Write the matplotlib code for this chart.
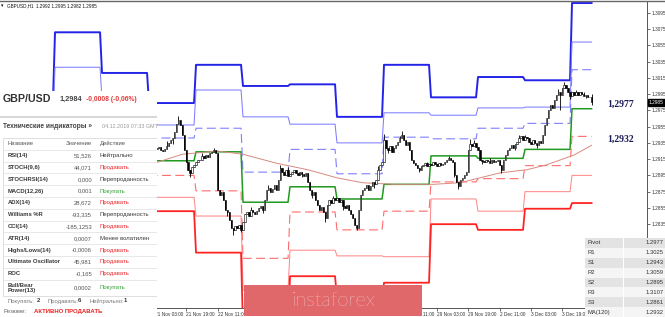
import numpy as np
import matplotlib.pyplot as plt
from matplotlib.patches import Rectangle
import matplotlib.transforms as mtransforms

plt.rcParams['font.family'] = ['Liberation Sans', 'DejaVu Sans']

W, H = 665, 317

# ---------------- данные ----------------
# дневные уровни (18 Nov .. 4 Dec), по одному значению на торговый день
r3_levels = [1.2990, 1.3071, 1.3021, 1.2984, 1.3031, 1.3005, 1.3007, 1.2967, 1.3031, 1.2991, 1.3016, 1.3012, 1.3107]
r2_levels = [1.2960, 1.3028, 1.2988, 1.2957, 1.3000, 1.2967, 1.2958, 1.2935, 1.2972, 1.2969, 1.2978, 1.2979, 1.3059]
r1_levels = [1.2945, 1.2975, 1.2960, 1.2941, 1.2953, 1.2899, 1.2927, 1.2897, 1.2942, 1.2940, 1.2953, 1.2959, 1.3025]
pivot_levels = [1.2915, 1.2945, 1.2935, 1.2913, 1.2924, 1.2862, 1.2881, 1.2866, 1.2884, 1.2919, 1.2916, 1.2927, 1.2977]
s1_levels = [1.2885, 1.2900, 1.2905, 1.2895, 1.2876, 1.2793, 1.2850, 1.2828, 1.2851, 1.2887, 1.2891, 1.2907, 1.2943]
s2_levels = [1.2860, 1.2870, 1.2880, 1.2868, 1.2845, 1.2754, 1.2803, 1.2796, 1.2795, 1.2866, 1.2851, 1.2875, 1.2895]
s3_levels = [1.2830, 1.2840, 1.2855, 1.2851, 1.2800, 1.2705, 1.2771, 1.2744, 1.2763, 1.2835, 1.2828, 1.2854, 1.2861]
bars_per_day = 24
first_level_bar = -24
last_bar = 274

# MA(120)
ma_bars = [30, 52, 65, 83, 96, 113, 129, 144, 157, 173, 193, 207, 217, 227, 241, 251, 265, 274]
ma_values = [1.2900, 1.2911, 1.2921, 1.2925, 1.2921, 1.2910, 1.2902, 1.2892, 1.2886, 1.2884,
             1.2884, 1.2886, 1.2892, 1.2898, 1.2902, 1.2908, 1.2920, 1.2932]

# H1 свечи (close), начиная с бара 52
first_bar = 52
first_open = 1.2928
closes = [
    1.2929, 1.2930, 1.2926, 1.2925, 1.2927, 1.2931, 1.2935, 1.2938, 1.2941, 1.2948, 1.2958, 1.2963,
    1.2957, 1.2945, 1.2926, 1.2911, 1.2902, 1.2898, 1.2905, 1.2908, 1.2911, 1.2914, 1.2914, 1.2919,
    1.2916, 1.2920, 1.2918, 1.2922, 1.2924, 1.2926, 1.2922, 1.2877, 1.2871, 1.2875, 1.2865, 1.2853,
    1.2850, 1.2840, 1.2830, 1.2828, 1.2833, 1.2830, 1.2834, 1.2828, 1.2838, 1.2848, 1.2850, 1.2845,
    1.2853, 1.2850, 1.2848, 1.2851, 1.2855, 1.2857, 1.2853, 1.2865, 1.2877, 1.2879, 1.2875, 1.2878,
    1.2883, 1.2877, 1.2889, 1.2904, 1.2899, 1.2896, 1.2902, 1.2894, 1.2897, 1.2899, 1.2902, 1.2898,
    1.2896, 1.2899, 1.2897, 1.2894, 1.2898, 1.2887, 1.2877, 1.2871, 1.2875, 1.2865, 1.2858, 1.2853,
    1.2856, 1.2850, 1.2843, 1.2858, 1.2865, 1.2861, 1.2867, 1.2865, 1.2867, 1.2862, 1.2865, 1.2857,
    1.2855, 1.2858, 1.2853, 1.2848, 1.2843, 1.2834, 1.2830, 1.2853, 1.2871, 1.2877, 1.2879, 1.2883,
    1.2877, 1.2882, 1.2887, 1.2884, 1.2889, 1.2902, 1.2908, 1.2911, 1.2938, 1.2929, 1.2926, 1.2931,
    1.2924, 1.2929, 1.2932, 1.2936, 1.2941, 1.2945, 1.2938, 1.2932, 1.2936, 1.2926, 1.2914, 1.2910,
    1.2908, 1.2904, 1.2902, 1.2906, 1.2908, 1.2910, 1.2906, 1.2909, 1.2908, 1.2911, 1.2909, 1.2906,
    1.2910, 1.2908, 1.2909, 1.2911, 1.2914, 1.2916, 1.2914, 1.2911, 1.2896, 1.2887, 1.2882, 1.2889,
    1.2892, 1.2896, 1.2899, 1.2926, 1.2934, 1.2931, 1.2935, 1.2930, 1.2926, 1.2914, 1.2913, 1.2911,
    1.2914, 1.2913, 1.2910, 1.2914, 1.2911, 1.2913, 1.2914, 1.2908, 1.2902, 1.2914, 1.2920, 1.2926,
    1.2929, 1.2932, 1.2929, 1.2934, 1.2936, 1.2941, 1.2943, 1.2938, 1.2942, 1.2941, 1.2936, 1.2934,
    1.2938, 1.2935, 1.2932, 1.2937, 1.2935, 1.2945, 1.2957, 1.2966, 1.2975, 1.2982, 1.2978, 1.2988,
    1.2994, 1.2998, 1.2994, 1.3002, 1.3006, 1.3002, 1.2997, 1.2993, 1.2998, 1.2994, 1.2997, 1.2994,
    1.2998, 1.2995, 1.2993, 1.2994, 1.2991, 1.2992, 1.2985,
]
# тени свечей
wick_hi_bars = [57, 63, 75, 81, 100, 109, 115, 119, 142, 165, 168, 176, 177, 190, 201, 212, 214,
                222, 237, 240, 257, 260, 266, 270, 274]
wick_hi_vals = [1.2937, 1.2968, 1.2922, 1.2929, 1.2856, 1.2883, 1.2908, 1.2905, 1.2870, 1.2906,
                1.2946, 1.2944, 1.2950, 1.2912, 1.2919, 1.2940, 1.2938, 1.2916, 1.2945, 1.2945,
                1.3001, 1.3010, 1.3000, 1.2998, 1.2995]
wick_lo_bars = [60, 69, 88, 91, 95, 106, 126, 131, 138, 147, 154, 163, 170, 186, 204, 206, 218,
                228, 235, 246, 252, 258, 263, 271, 274]
wick_lo_vals = [1.2934, 1.2893, 1.2845, 1.2822, 1.2825, 1.2849, 1.2893, 1.2867, 1.2838, 1.2853,
                1.2828, 1.2880, 1.2922, 1.2899, 1.2893, 1.2878, 1.2909, 1.2898, 1.2926, 1.2929,
                1.2968, 1.2976, 1.2989, 1.2990, 1.2982]

# видимые подписи времени (остальные закрыты панелью, логотипом и таблицей)
time_tick_bars = [51, 67, 83, 179, 195, 211, 227, 243, 259]
time_tick_labels = ['21 Nov 03:00', '21 Nov 19:00', '22 Nov 11:00', '28 Nov 11:00', '29 Nov 03:00',
                    '29 Nov 19:00', '2 Dec 11:00', '3 Dec 03:00', '3 Dec 19:00']
price_ticks = [1.2835, 1.2855, 1.2875, 1.2895, 1.2915, 1.2935, 1.2955,
               1.2975, 1.2995, 1.3015, 1.3035, 1.3055, 1.3075, 1.3095]

# панель индикаторов
ind_names = ['RSI(14)', 'STOCH(9,6)', 'STOCHRSI(14)', 'MACD(12,26)', 'ADX(14)', 'Williams %R',
             'CCI(14)', 'ATR(14)', 'Highs/Lows(14)', 'Ultimate Oscillator', 'ROC', 'Bull/Bear\nPower(13)']
ind_values = ['51,526', '44,071', '0,000', '0,001', '28,672', '-93,335', '-185,1253', '0,0007',
              '-0,0006', '45,981', '-0,165', '0,0002']
ind_actions = ['Нейтрально', 'Продавать', 'Перепроданность', 'Покупать', 'Продавать', 'Перепроданность',
               'Продавать', 'Менее волатилен', 'Продавать', 'Продавать', 'Продавать', 'Покупать']

pivot_names = ['Pivot', 'R1', 'S1', 'R2', 'S2', 'R3', 'S3', 'MA(120)']
pivot_vals = ['1.2977', '1.3025', '1.2943', '1.3059', '1.2895', '1.3107', '1.2861', '1.2932']

# ---------------- график ----------------
fig = plt.figure(figsize=(W / 100, H / 100), dpi=100)
fig.patch.set_facecolor('white')

ax = fig.add_axes([0, 9 / H, 647 / W, 307 / H])
ax.set_xlim(-28.09, 302.3)
ax.set_ylim(1.27319, 1.31095)

lvl_bars = np.arange(first_level_bar, last_bar + 1)


def expand(levels):
    return np.repeat(levels, bars_per_day)[:len(lvl_bars)]


dash = (8, 4)
line_styles = [
    (r3_levels, '#2424e8', 1.4, None),
    (r2_levels, '#7f7fff', 0.75, None),
    (r1_levels, '#7f7fff', 0.8, dash),
    (pivot_levels, '#1f9a1f', 1.1, None),
    (s1_levels, '#ff6b6b', 0.8, dash),
    (s2_levels, '#ff8a8a', 0.75, None),
    (s3_levels, '#ff2424', 1.3, None),
]
for levels, col, lw, ds in line_styles:
    ln, = ax.plot(lvl_bars, expand(levels), color=col, lw=lw, zorder=2)
    if ds:
        ln.set_dashes(ds)

ax.plot(ma_bars, ma_values, color='#d98a7e', lw=0.7, zorder=2)

# свечи
closes = np.array(closes)
cbars = np.arange(first_bar, first_bar + len(closes))
opens = np.concatenate([[first_open], closes[:-1]])
highs = np.maximum(opens, closes)
lows = np.minimum(opens, closes)
for b, v in zip(wick_hi_bars, wick_hi_vals):
    highs[b - first_bar] = max(highs[b - first_bar], v)
for b, v in zip(wick_lo_bars, wick_lo_vals):
    lows[b - first_bar] = min(lows[b - first_bar], v)
up = closes >= opens
ax.vlines(cbars, lows, highs, color='black', lw=0.6, zorder=3)
ax.bar(cbars[up], (closes - opens)[up], bottom=opens[up], width=0.7,
       facecolor='white', edgecolor='black', lw=0.4, zorder=4)
ax.bar(cbars[~up], (closes - opens)[~up], bottom=opens[~up], width=0.7,
       facecolor='black', edgecolor='black', lw=0.4, zorder=4)

# подписи уровней
ax.annotate('1,2977', xy=(last_bar, pivot_levels[-1]), xytext=(11, 3), textcoords='offset points',
            ha='left', va='center', fontsize=7, fontweight='bold', color='#1c1c5a',
            family=['Liberation Serif', 'DejaVu Serif'])
ax.annotate('1,2932', xy=(last_bar, ma_values[-1]), xytext=(11, 4.3), textcoords='offset points',
            ha='left', va='center', fontsize=7, fontweight='bold', color='#1c1c5a',
            family=['Liberation Serif', 'DejaVu Serif'])

# оси
for s in ['top', 'left']:
    ax.spines[s].set_visible(False)
for s in ['right', 'bottom']:
    ax.spines[s].set_color('#555555')
    ax.spines[s].set_linewidth(0.7)
ax.yaxis.tick_right()
ax.set_yticks(price_ticks)
ax.set_yticklabels(['%.4f' % p for p in price_ticks])
ax.tick_params(axis='y', labelsize=3.4, length=2, width=0.5, pad=1, colors='#333333')
ax.set_xticks(time_tick_bars)
ax.set_xticklabels(time_tick_labels)
ax.tick_params(axis='x', labelsize=3.4, length=2, width=0.5, pad=0.8, colors='#333333')
for lab in ax.get_xticklabels():
    lab.set_ha('left')

trans = mtransforms.blended_transform_factory(ax.transAxes, ax.transData)
ax.text(1.003, closes[-1], '%.4f' % closes[-1], transform=trans, fontsize=3.4, color='white',
        va='center', ha='left', bbox=dict(facecolor='black', edgecolor='black', pad=0.8), clip_on=False)

# верхняя строка
fig.add_artist(plt.Line2D([0, 1], [1 - 0.5 / H, 1 - 0.5 / H], color='#666666', lw=1))
fig.text(7 / W, 1 - 5.5 / H, 'GBPUSD,H1  1.2992 1.2995 1.2982 1.2985', fontsize=3.3, va='center', color='#111111')
fig.text(1 / W, 1 - 5.5 / H, '▾', fontsize=3.5, va='center', color='#111111', family=['DejaVu Sans'])

# ---------------- панель индикаторов ----------------
pan = fig.add_axes([0, 0, 157 / W, 226 / H])
pan.set_xlim(0, 157)
pan.set_ylim(317, 91)
pan.axis('off')
pan.add_patch(Rectangle((0, 91), 157, 226, facecolor='white', edgecolor='none'))
pan.text(3, 99, 'GBP/USD', fontsize=7.7, fontweight='bold', color='#333333', va='center')
pan.text(59, 99.5, '1,2984', fontsize=5.3, fontweight='bold', color='#444444', va='center')
pan.text(86, 99.5, '-0,0008 (-0,06%)', fontsize=4.9, fontweight='bold', color='#e23b3b', va='center')
pan.plot([0, 157], [117, 117], color='#d0d0d0', lw=1.2)
pan.text(3, 127, 'Технические индикаторы »', fontsize=4.8, fontweight='bold', color='#444444', va='center')
pan.text(102, 127, '04.12.2019 07:33 GMT', fontsize=3.9, color='#9a9a9a', va='center')

tab_top, row_h = 138, 11.8
n_rows = len(ind_names)
tab_bot = tab_top + row_h * (n_rows + 1) + 4.6
pan.add_patch(Rectangle((3, tab_top), 154, tab_bot - tab_top, facecolor='white',
                        edgecolor='#d9d9d9', lw=0.6))
pan.text(8, tab_top + row_h / 2, 'Название', fontsize=4.2, color='#555555', va='center')
pan.text(92, tab_top + row_h / 2, 'Значение', fontsize=4.2, color='#555555', va='center', ha='right')
pan.text(100, tab_top + row_h / 2, 'Действие', fontsize=4.2, color='#555555', va='center')
action_colors = {'Продавать': '#e8262a', 'Покупать': '#2ea32e'}
for i in range(n_rows):
    y0 = tab_top + row_h * (i + 1)
    h = row_h if i < n_rows - 1 else tab_bot - y0
    pan.plot([3, 157], [y0, y0], color='#dedede', lw=0.5)
    yc = y0 + h / 2
    pan.text(8, yc, ind_names[i], fontsize=4.2, fontweight='bold', color='#3a3a3a', va='center',
             linespacing=1.05)
    pan.text(92, yc, ind_values[i], fontsize=4.2, color='#555555', va='center', ha='right')
    pan.text(100, yc, ind_actions[i], fontsize=4.3, color=action_colors.get(ind_actions[i], '#3a3a3a'),
             va='center')

pan.text(7, 301, 'Покупать:', fontsize=4.2, color='#777777', va='center')
pan.text(37, 301, '2', fontsize=4.2, fontweight='bold', color='#333333', va='center')
pan.text(47, 301, 'Продавать:', fontsize=4.2, color='#777777', va='center')
pan.text(78, 301, '6', fontsize=4.2, fontweight='bold', color='#333333', va='center')
pan.text(89, 301, 'Нейтрально:', fontsize=4.2, color='#777777', va='center')
pan.text(124, 301, '1', fontsize=4.2, fontweight='bold', color='#333333', va='center')
pan.text(3, 311.5, 'Резюме:', fontsize=4.3, color='#666666', va='center')
pan.text(33.5, 311.5, 'АКТИВНО ПРОДАВАТЬ', fontsize=4.3, fontweight='bold', color='#ee2222', va='center')

# ---------------- таблица pivot ----------------
piv = fig.add_axes([585 / W, 0, 80 / W, 79 / H])
piv.set_xlim(585, 665)
piv.set_ylim(317, 238)
piv.axis('off')
prow = 79 / len(pivot_names)
for i, (nm, val) in enumerate(zip(pivot_names, pivot_vals)):
    y0 = 238 + i * prow
    bg = '#e3e3e3' if i % 2 == 0 else '#f5f5f5'
    piv.add_patch(Rectangle((585, y0), 80, prow, facecolor=bg, edgecolor='none'))
    piv.text(588, y0 + prow / 2, nm, fontsize=4.2, color='#333333', va='center')
    piv.text(664, y0 + prow / 2, val, fontsize=4.2, color='#333333', va='center', ha='right')
piv.plot([623, 623], [238, 317], color='white', lw=0.8)

# ---------------- логотип ----------------
logo = fig.add_axes([244 / W, 1 / H, 178 / W, 31 / H])
logo.set_xlim(0, 1)
logo.set_ylim(0, 1)
logo.set_facecolor('#e0686a')
for s in logo.spines.values():
    s.set_visible(False)
logo.set_xticks([])
logo.set_yticks([])
logo.text(0.5, 0.48, 'instaforex', fontsize=14.5, color='white', ha='center', va='center',
          fontweight='light', family=['Lato', 'Open Sans', 'DejaVu Sans'])

fig.savefig('out.png', dpi=100)
